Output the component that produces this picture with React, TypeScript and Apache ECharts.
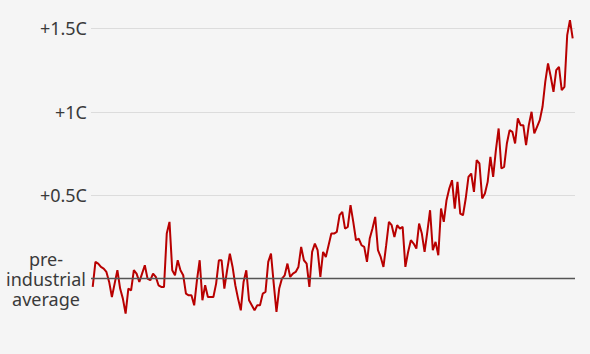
import React, { useEffect, useRef } from "react";
import * as echarts from "echarts";

const startYear = 1850;
// Temperature anomaly vs pre-industrial average (°C), 1850–2025
const anomalies = [
  -0.05, 0.10, 0.09, 0.07, 0.06, 0.04, -0.02, -0.11, -0.03, 0.05,
  -0.06, -0.12, -0.21, -0.06, -0.07, 0.05, 0.03, -0.02, 0.03, 0.08,
  0.00, -0.01, 0.03, 0.01, -0.04, -0.05, -0.05, 0.27, 0.34, 0.05,
  0.02, 0.11, 0.05, 0.02, -0.09, -0.10, -0.10, -0.16, -0.01, 0.11,
  -0.13, -0.04, -0.11, -0.11, -0.11, -0.03, 0.11, 0.11, -0.06, 0.05,
  0.15, 0.07, -0.04, -0.12, -0.19, -0.02, 0.05, -0.13, -0.16, -0.19,
  -0.16, -0.16, -0.09, -0.08, 0.10, 0.15, -0.03, -0.20, -0.06, 0.00,
  0.02, 0.09, 0.01, 0.03, 0.04, 0.07, 0.19, 0.11, 0.09, -0.05,
  0.16, 0.21, 0.17, 0.01, 0.16, 0.13, 0.20, 0.27, 0.27, 0.28,
  0.38, 0.40, 0.30, 0.31, 0.44, 0.34, 0.23, 0.24, 0.20, 0.19,
  0.10, 0.24, 0.30, 0.37, 0.17, 0.13, 0.07, 0.20, 0.34, 0.32,
  0.25, 0.32, 0.30, 0.31, 0.07, 0.16, 0.23, 0.21, 0.18, 0.33,
  0.27, 0.16, 0.28, 0.41, 0.17, 0.22, 0.14, 0.42, 0.34, 0.47,
  0.54, 0.59, 0.42, 0.58, 0.39, 0.38, 0.48, 0.61, 0.63, 0.52,
  0.71, 0.69, 0.48, 0.51, 0.58, 0.73, 0.61, 0.77, 0.90, 0.66,
  0.67, 0.81, 0.89, 0.88, 0.81, 0.96, 0.92, 0.92, 0.80, 0.92,
  1.00, 0.87, 0.91, 0.95, 1.03, 1.18, 1.29, 1.21, 1.12, 1.25,
  1.27, 1.13, 1.15, 1.46, 1.55, 1.44,
];
const tickValues = [0, 0.5, 1, 1.5];
const tickLabels = ["pre-\nindustrial\naverage", "+0.5C", "+1C", "+1.5C"];

const FONT = "Noto Sans";
const FS = 18;
const LH = 20;

export default function App() {
  const ref = useRef<HTMLDivElement>(null);
  useEffect(() => {
    document.body.style.margin = "0";
    document.body.style.background = "#f5f5f5";
    document.body.style.overflow = "hidden";
    document.documentElement.style.overflow = "hidden";
    const chart = echarts.init(ref.current!, null, { renderer: "svg" });
    const seriesData = anomalies.map((v, i) => [startYear + i, v]);
    chart.setOption({
      animation: false,
      backgroundColor: "#f5f5f5",
      grid: { left: 91, right: 15, top: 0, bottom: 0, containLabel: false },
      xAxis: {
        type: "value",
        min: 1849.38,
        max: 2025.84,
        show: false,
      },
      yAxis: {
        type: "value",
        min: -0.5,
        max: 2,
        interval: 0.5,
        axisLine: { show: false },
        axisTick: { show: false },
        splitLine: { lineStyle: { color: "#dcdcdc", width: 1 } },
        axisLabel: {
          margin: 4,
          color: "#3a3a3a",
          fontFamily: FONT,
          fontSize: FS,
          lineHeight: LH,
          formatter: (v: number) => {
            const idx = tickValues.findIndex((t) => Math.abs(t - v) < 1e-6);
            if (idx < 0) return "";
            if (idx === 0) {
              return tickLabels[0]
                .split("\n")
                .map((s) => `{c|${s}}`)
                .join("\n");
            }
            return tickLabels[idx];
          },
          rich: {
            c: {
              width: 82,
              align: "center",
              color: "#3a3a3a",
              fontFamily: FONT,
              fontSize: FS,
              lineHeight: LH,
            },
          },
        },
      },
      series: [
        {
          type: "line",
          data: seriesData,
          showSymbol: false,
          clip: false,
          lineStyle: { color: "#b80000", width: 2 },
          markLine: {
            silent: true,
            symbol: "none",
            label: { show: false },
            lineStyle: { color: "#555555", width: 1.3, type: "solid" },
            data: [{ yAxis: 0 }],
          },
          z: 3,
        },
      ],
    });
    return () => chart.dispose();
  }, []);
  return (
    <div style={{ position: "relative", width: 590, height: 354, overflow: "hidden", background: "#f5f5f5" }}>
      <div
        ref={ref}
        style={{ position: "absolute", left: 0, top: -55.33, width: 590, height: 416.67 }}
      />
    </div>
  );
}
